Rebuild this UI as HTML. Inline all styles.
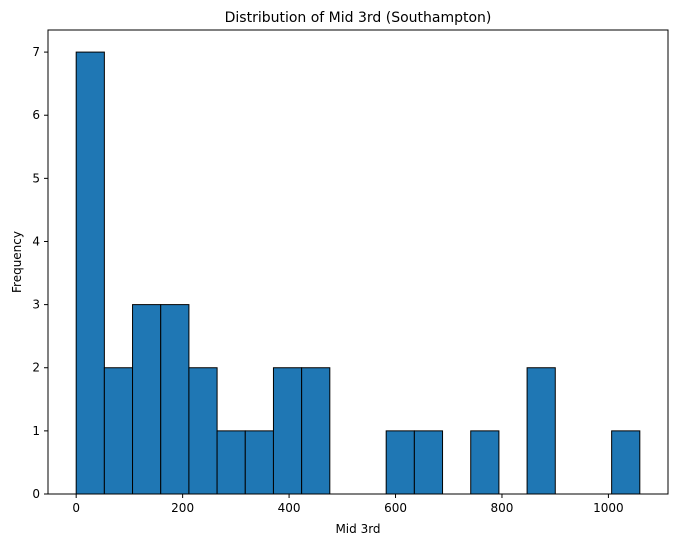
<!DOCTYPE html>
<html><head><meta charset="utf-8"><style>
html,body{margin:0;padding:0;background:#fff;}
svg{display:block;font-family:"DejaVu Sans","Liberation Sans",sans-serif;}
</style></head><body>
<svg id="chart" width="678" height="547" xmlns="http://www.w3.org/2000/svg">
<text x="358" y="22" text-anchor="middle" font-size="14" fill="#000">Distribution of Mid 3rd (Southampton)</text>
<g id="bars"></g>
<g id="xticks"></g>
<g id="yticks"></g>
<rect x="48" y="30" width="620" height="464" fill="none" stroke="#000" stroke-width="1"/>
<text x="358" y="533" text-anchor="middle" font-size="12">Mid 3rd</text>
<text x="0" y="0" transform="translate(21,262) rotate(-90)" text-anchor="middle" font-size="12">Frequency</text>
</svg>
<script>
const counts = [7,2,3,3,2,1,1,2,2,0,0,1,1,0,1,0,2,0,0,1];
const binStart = 0;
const binEnd = 1059;
const xTickValues = [0,200,400,600,800,1000];
const yTickValues = [0,1,2,3,4,5,6,7];

const NS = "http://www.w3.org/2000/svg";
const L=48,R=668,T=30,B=494;
const span = binEnd-binStart;
const xmin = binStart - span*0.05, xmax = binEnd + span*0.05;
const ymax = Math.max(...counts)*1.05;
const xs = v => L + (v-xmin)/(xmax-xmin)*(R-L);
const ys = v => B - v/ymax*(B-T);
const bw = span/counts.length;

const bars = document.getElementById('bars');
counts.forEach((c,i)=>{
  if(c<=0) return;
  const r = document.createElementNS(NS,'rect');
  const x0 = xs(binStart+i*bw), x1 = xs(binStart+(i+1)*bw);
  r.setAttribute('x',x0); r.setAttribute('width',x1-x0);
  r.setAttribute('y',ys(c)); r.setAttribute('height',ys(0)-ys(c));
  r.setAttribute('fill','#1f77b4'); r.setAttribute('stroke','#000'); r.setAttribute('stroke-width','1');
  
  
  bars.appendChild(r);
});

const xt = document.getElementById('xticks');
xTickValues.forEach(v=>{
  const x = xs(v);
  const l = document.createElementNS(NS,'line');
  l.setAttribute('x1',x); l.setAttribute('x2',x); l.setAttribute('y1',B); l.setAttribute('y2',B+4);
  l.setAttribute('stroke','#000');
  
  
  xt.appendChild(l);
  const t = document.createElementNS(NS,'text');
  t.setAttribute('x',x); t.setAttribute('y',B+18); t.setAttribute('text-anchor','middle'); t.setAttribute('font-size','12');
  t.textContent = v;
  
  
  xt.appendChild(t);
});

const yt = document.getElementById('yticks');
yTickValues.forEach(v=>{
  const y = ys(v);
  const l = document.createElementNS(NS,'line');
  l.setAttribute('x1',L-4); l.setAttribute('x2',L); l.setAttribute('y1',y); l.setAttribute('y2',y);
  l.setAttribute('stroke','#000');
  
  
  yt.appendChild(l);
  const t = document.createElementNS(NS,'text');
  t.setAttribute('x',L-8); t.setAttribute('y',y+4); t.setAttribute('text-anchor','end'); t.setAttribute('font-size','12');
  t.textContent = v;
  
  
  yt.appendChild(t);
});
</script>
</body></html>
